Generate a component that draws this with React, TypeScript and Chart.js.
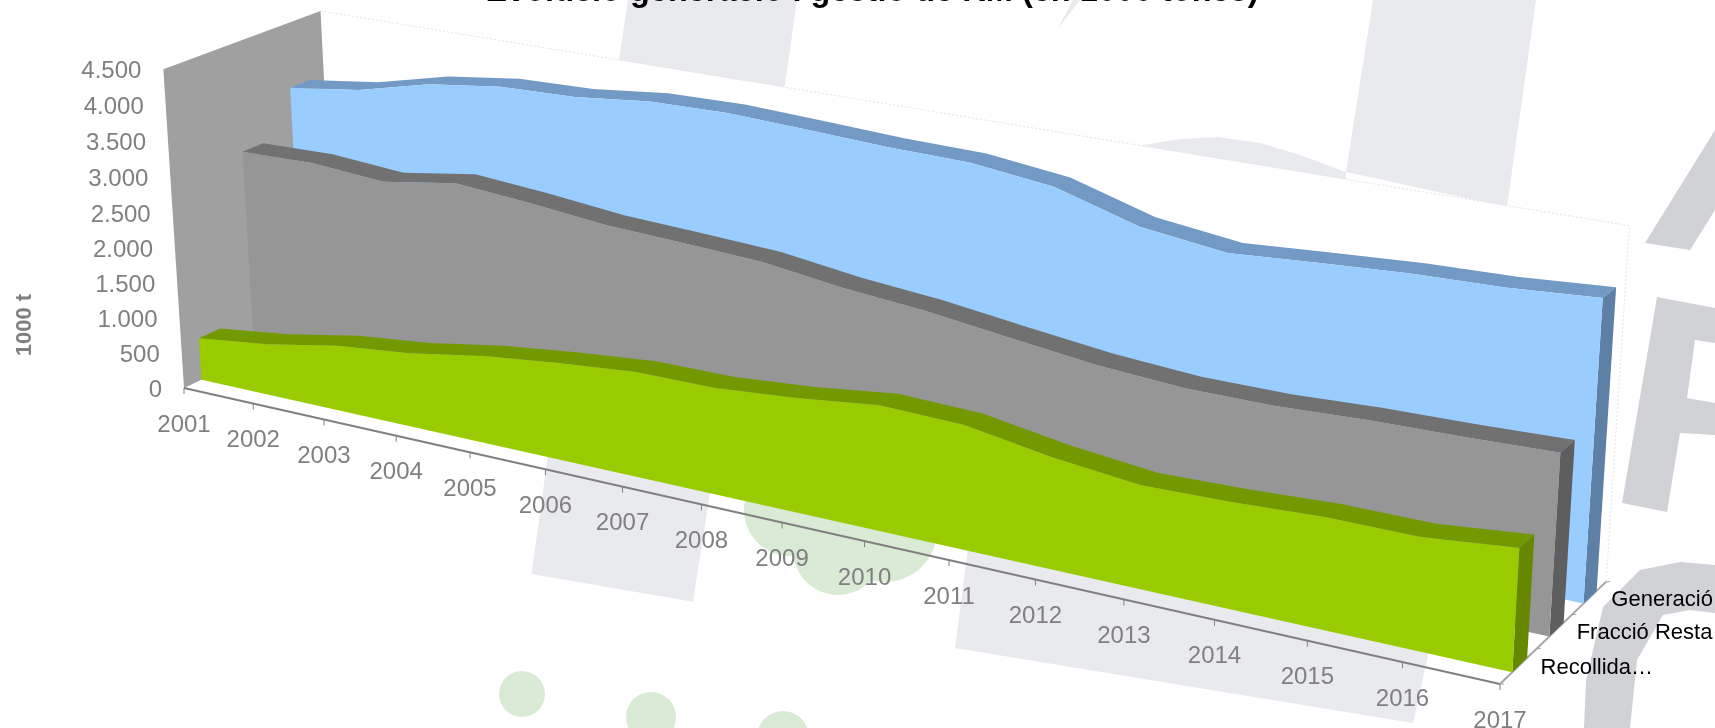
import React, { useEffect, useRef } from "react";
import { Chart, registerables } from "chart.js";

Chart.register(...registerables);

// ---------- data ----------
const years = ["2001","2002","2003","2004","2005","2006","2007","2008","2009","2010","2011","2012","2013","2014","2015","2016","2017"];
const recollida = [602,732,928,1038,1218,1342,1439,1446,1537,1670,1638,1459,1337,1364,1420,1418,1534];
const fraccioResta = [2953,2978,2901,3068,2988,2881,2834,2779,2638,2542,2401,2267,2191,2189,2240,2262,2298];
const generacio = [3583,3724,3978,4118,4150,4264,4286,4243,4193,4175,4045,3721,3584,3661,3729,3759,3839];
const yTicks = [0,500,1000,1500,2000,2500,3000,3500,4000,4500];
const depthLabels = ["Recollida…","Fracció Resta","Generació"];
const titleText = "Evolució generació i gestió de RM (en 1000 tones)";
const yAxisTitle = "1000 t";

// ---------- 3D view (perspective box the reference is drawn in) ----------
const YMAX = 4500;
const O = [184, 388];
const AX_U = [1065.5, 181.8];
const AX_V = [168.8, -56.2];
const AX_H = [-25.2, -320.6];
const W_U = -0.167, W_V = 0.05, W_H = -0.028;
function project(u: number, v: number, h: number) {
  const w = 1 + W_U * u + W_V * v + W_H * h;
  return {
    x: (O[0] + AX_U[0] * u + AX_V[0] * v + AX_H[0] * h) / w,
    y: (O[1] + AX_U[1] * u + AX_V[1] * v + AX_H[1] * h) / w,
  };
}
const uOf = (i: number) => i / (years.length - 1);

const seriesFaces = [
  { values: generacio, v0: 0.776, v1: 0.905, front: "#99ccff", top: "#739ac4", side: "#5f80a6" },
  { values: fraccioResta, v0: 0.45, v1: 0.585, front: "#969696", top: "#717171", side: "#5e5e5e" },
  { values: recollida, v0: 0.11, v1: 0.245, front: "#99cc00", top: "#729900", side: "#668800" },
];

function face(points: { x: number; y: number }[], color: string) {
  return { data: points, showLine: true, fill: "shape", backgroundColor: color, borderWidth: 0, borderColor: color, pointRadius: 0, tension: 0 };
}
function line(points: { x: number; y: number }[], color: string, width: number, dash: number[] = []) {
  return { data: points, showLine: true, fill: false, borderColor: color, borderWidth: width, borderDash: dash, pointRadius: 0, tension: 0 };
}

function buildDatasets() {
  const painter: any[] = [];
  painter.push(face([project(0,1,0), project(1,1,0), project(1,1,1), project(0,1,1)], "#ffffff"));
  painter.push(line([project(0,1,1), project(1,1,1), project(1,1,0)], "#e4e4e4", 1, [2, 2]));
  painter.push(face([project(0,0,0), project(0,1,0), project(0,1,1), project(0,0,1)], "#a0a0a0"));
  painter.push(line([project(0,0,0), project(1,0,0)], "#808080", 2));
  painter.push(line([project(1,0,0), project(1,1,0)], "#a6a6a6", 2));
  for (const s of seriesFaces) {
    const hs = s.values.map((val) => val / YMAX);
    const last = hs.length - 1;
    const topPts = [
      ...hs.map((h, i) => project(uOf(i), s.v0, h)),
      ...hs.map((h, i) => project(uOf(last - i), s.v1, hs[last - i])),
    ];
    painter.push(face(topPts, s.top));
    painter.push(face([project(1, s.v0, hs[last]), project(1, s.v1, hs[last]), project(1, s.v1, 0), project(1, s.v0, 0)], s.side));
    painter.push(face([...hs.map((h, i) => project(uOf(i), s.v0, h)), project(1, s.v0, 0), project(0, s.v0, 0)], s.front));
  }
  return painter.reverse();
}

// ---------- faint logo printed behind the chart ----------
const LOGO_LIGHT = "#e9eaee";
const LOGO_DARK = "#d1d2d6";
const LOGO_GREEN = "#d9ebd4";
const logoPolysLight = [
  [[628,0],[797,0],[780,120],[610,120]],
  [[548,455],[531.6,574],[693,601.7],[712,480]],
  [[969,540],[955,648],[1413,723],[1427,660],[1445,540]],
  [[1373,0],[1536,0],[1507,207],[1346,172]],
  [[1143,145],[1180,139],[1217,137],[1260,143],[1300,155],[1346,172],[1346,200],[1143,200]],
  [[1057,30],[1073,0],[1080,0]],
];
const logoPolysDark = [
  [[1715,130],[1645,243],[1690,250],[1715,210]],
  [[1657,297],[1715,308],[1715,343],[1695,340],[1687,398],[1715,403],[1715,435],[1680,433],[1667,512],[1622,503]],
  [[1584,728],[1586,680],[1603,607],[1640,570],[1680,562],[1715,565],[1715,613],[1690,610],[1663,615],[1637,660],[1630,728]],
];
const logoCircles = [
  [790,510,46],[838,550,45],[885,530,52],[522,694,23],[651,717,25],[783,737,26],
];

const decorPlugin = {
  id: "decor",
  beforeDraw(chart: any) {
    const c = chart.ctx;
    c.save();
    const poly = (pts: number[][], col: string) => {
      c.fillStyle = col;
      c.beginPath();
      pts.forEach((p, i) => (i ? c.lineTo(p[0], p[1]) : c.moveTo(p[0], p[1])));
      c.closePath();
      c.fill();
    };
    logoPolysLight.forEach((p) => poly(p, LOGO_LIGHT));
    logoPolysDark.forEach((p) => poly(p, LOGO_DARK));
    c.fillStyle = LOGO_GREEN;
    logoCircles.forEach(([x, y, r]) => {
      c.beginPath();
      c.arc(x, y, r, 0, Math.PI * 2);
      c.fill();
    });
    c.restore();
  },
  afterDatasetsDraw(chart: any) {
    const c = chart.ctx;
    c.save();
    const FONT = '"Liberation Sans", Arial, sans-serif';
    // title, cut by the top of the picture
    c.fillStyle = "#000000";
    c.font = `bold 32.5px ${FONT}`;
    c.textAlign = "center";
    c.textBaseline = "alphabetic";
    c.fillText(titleText, 872, 0.5);
    // value axis
    c.fillStyle = "#808080";
    c.font = `24px ${FONT}`;
    c.textAlign = "right";
    c.textBaseline = "middle";
    yTicks.forEach((t) => {
      const p = project(0, 0, t / YMAX);
      c.fillText(t.toLocaleString("de-DE"), p.x - 22, p.y + 2);
    });
    // year axis
    c.textAlign = "center";
    c.strokeStyle = "#808080";
    c.lineWidth = 1;
    years.forEach((y, i) => {
      const p = project(uOf(i), 0, 0);
      c.beginPath();
      c.moveTo(p.x, p.y);
      c.lineTo(p.x, p.y + 6);
      c.stroke();
      c.fillText(y, p.x, p.y + 37);
    });
    // depth axis
    c.strokeStyle = "#a6a6a6";
    [0, 1, 2, 3].forEach((k) => {
      const p = project(1, k / 3, 0);
      c.beginPath();
      c.moveTo(p.x, p.y);
      c.lineTo(p.x + 4, p.y);
      c.stroke();
    });
    c.fillStyle = "#000000";
    c.font = `22px ${FONT}`;
    c.textAlign = "left";
    depthLabels.forEach((label, k) => {
      const p = project(1, (k + 0.5) / 3, 0);
      c.fillText(label, p.x + 22, p.y + 2);
    });
    // value axis title
    c.fillStyle = "#808080";
    c.font = `bold 22px ${FONT}`;
    c.textAlign = "center";
    c.translate(25, 325);
    c.rotate(-Math.PI / 2);
    c.fillText(yAxisTitle, 0, 0);
    c.restore();
  },
};

export default function App() {
  const ref = useRef<HTMLCanvasElement | null>(null);
  useEffect(() => {
    if (!ref.current) return;
    const chart = new Chart(ref.current, {
      type: "scatter",
      data: { datasets: buildDatasets() },
      plugins: [decorPlugin],
      options: {
        animation: false,
        responsive: false,
        maintainAspectRatio: false,
        layout: { padding: 0 },
        plugins: { legend: { display: false }, title: { display: false }, tooltip: { enabled: false } },
        scales: {
          x: { type: "linear", min: 0, max: 1715, display: false },
          y: { type: "linear", min: 0, max: 728, reverse: true, display: false },
        },
      },
    } as any);
    return () => chart.destroy();
  }, []);
  return <canvas ref={ref} width={1715} height={728} style={{ position: "absolute", left: 0, top: 0, width: 1715, height: 728 }} />;
}
